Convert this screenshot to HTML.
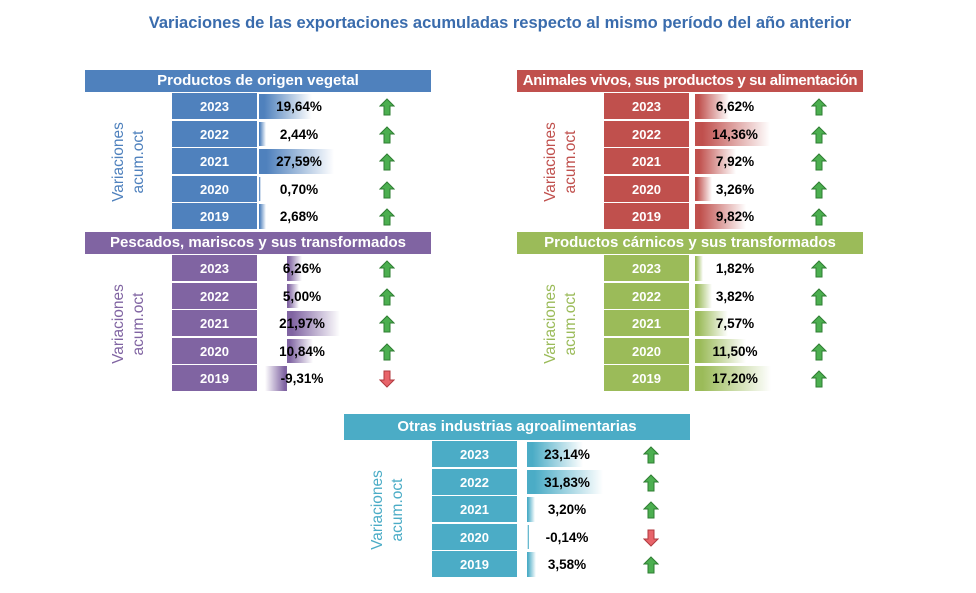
<!DOCTYPE html>
<html><head><meta charset="utf-8">
<style>
body{margin:0;background:#fff;font-family:"Liberation Sans",sans-serif;}
#wrap{position:relative;width:976px;height:593px;overflow:hidden;}
.title{position:absolute;left:0;width:1000px;top:14px;text-align:center;font-size:16.5px;font-weight:bold;color:#3A6CAD;}
.hdr{position:absolute;height:22px;line-height:22px;text-align:center;color:#fff;font-weight:bold;font-size:15px;font-family:"Liberation Sans",sans-serif;white-space:nowrap;overflow:hidden;}
.yr{position:absolute;width:85px;color:#fff;font-weight:bold;font-size:13px;text-align:center;font-family:"Liberation Sans",sans-serif;}
.val{position:absolute;width:90px;text-align:center;font-weight:bold;font-size:13.5px;color:#000;font-family:"Liberation Sans",sans-serif;}
.bar{position:absolute;}
.vl{position:absolute;transform:rotate(-90deg);transform-origin:center;text-align:center;font-size:15.5px;line-height:20px;font-family:"Liberation Sans",sans-serif;width:120px;}
</style></head><body>
<div id="wrap">
<div class="title">Variaciones de las exportaciones acumuladas respecto al mismo período del año anterior</div>
</div>
<script>
const years=["2023","2022","2021","2020","2019"];
const vegetal=[19.64,2.44,27.59,0.70,2.68];
const animales=[6.62,14.36,7.92,3.26,9.82];
const pescados=[6.26,5.00,21.97,10.84,-9.31];
const carnicos=[1.82,3.82,7.57,11.50,17.20];
const otras=[23.14,31.83,3.20,-0.14,3.58];
const panels=[
 {name:"Productos de origen vegetal",key:"vegetal",data:vegetal,color:"#4F81BD",x:85,y:70,axis:259,scale:2.72,label:116},
 {name:"Animales vivos, sus productos y su alimentación",key:"animales",data:animales,color:"#C0504D",x:517,y:70,axis:695,scale:5.2,label:548,ls:-0.35},
 {name:"Pescados, mariscos y sus transformados",key:"pescados",data:pescados,color:"#8064A2",x:85,y:232,axis:287,scale:2.4,label:116},
 {name:"Productos cárnicos y sus transformados",key:"carnicos",data:carnicos,color:"#9BBB59",x:517,y:232,axis:695,scale:4.4,label:548},
 {name:"Otras industrias agroalimentarias",key:"otras",data:otras,color:"#4BACC6",x:344,y:414,axis:527,scale:2.4,label:375,hh:26}
];
const wrap=document.getElementById('wrap');
function fmt(v){return v.toFixed(2).replace('.',',')+'%';}
panels.forEach(p=>{
 const hh=p.hh||22;
 const h=document.createElement('div');h.className='hdr';
 
 
 h.style.cssText=`left:${p.x}px;top:${p.y}px;width:346px;height:${hh}px;line-height:${hh}px;background:${p.color};letter-spacing:${p.ls||0}px`;
 h.textContent=p.name;wrap.appendChild(h);
 const top=p.y+hh+1, pitch=27.6, yrx=p.x+(p.key==='otras'?88:87);
 const vl=document.createElement('div');vl.className='vl';
 
 
 vl.style.cssText=`left:${p.label+13-60}px;top:${top+69-20}px;color:${p.color}`;
 vl.innerHTML='Variaciones<br>acum.oct';wrap.appendChild(vl);
 p.data.forEach((v,i)=>{
  const ry=top+i*pitch;
  const y=document.createElement('div');y.className='yr';
  
  
  y.style.cssText=`left:${yrx}px;top:${ry}px;height:${pitch-1.5}px;line-height:${pitch}px;background:${p.color}`;
  y.textContent=years[i];wrap.appendChild(y);
  const w=Math.abs(v)*p.scale;
  const b=document.createElement('div');b.className='bar';
  
  
  const left=v>=0?p.axis:p.axis-w;
  const dir=v>=0?'to right':'to left';
  b.style.cssText=`left:${left}px;top:${ry+1}px;width:${Math.max(w,2)}px;height:${pitch-3}px;background:linear-gradient(${dir},${p.color} 10%,#fff)`;
  wrap.appendChild(b);
  const t=document.createElement('div');t.className='val';
  
  
  const cx=p.key==='pescados'?p.axis+15:p.axis+40;
  t.style.cssText=`left:${cx-45}px;top:${ry}px;height:${pitch-1}px;line-height:${pitch+1}px`;
  t.textContent=fmt(v);wrap.appendChild(t);
  const ax=p.x+(p.key==='otras'?307:302);
  const s=document.createElementNS('http://www.w3.org/2000/svg','svg');
  
  
  s.setAttribute('width','16');s.setAttribute('height','18');
  s.style.cssText=`position:absolute;left:${ax-8}px;top:${ry+5}px`;
  const up=v>=0;
  const pts=up?"8,1 15,8 11,8 11,17 5,17 5,8 1,8":"8,17 15,10 11,10 11,1 5,1 5,10 1,10";
  s.innerHTML=`<polygon points="${pts}" fill="${up?'#4CAF50':'#E8646A'}" stroke="${up?'#2E7D32':'#B03A3F'}" stroke-width="1"/>`;
  wrap.appendChild(s);
 });
});
</script>
</body></html>
